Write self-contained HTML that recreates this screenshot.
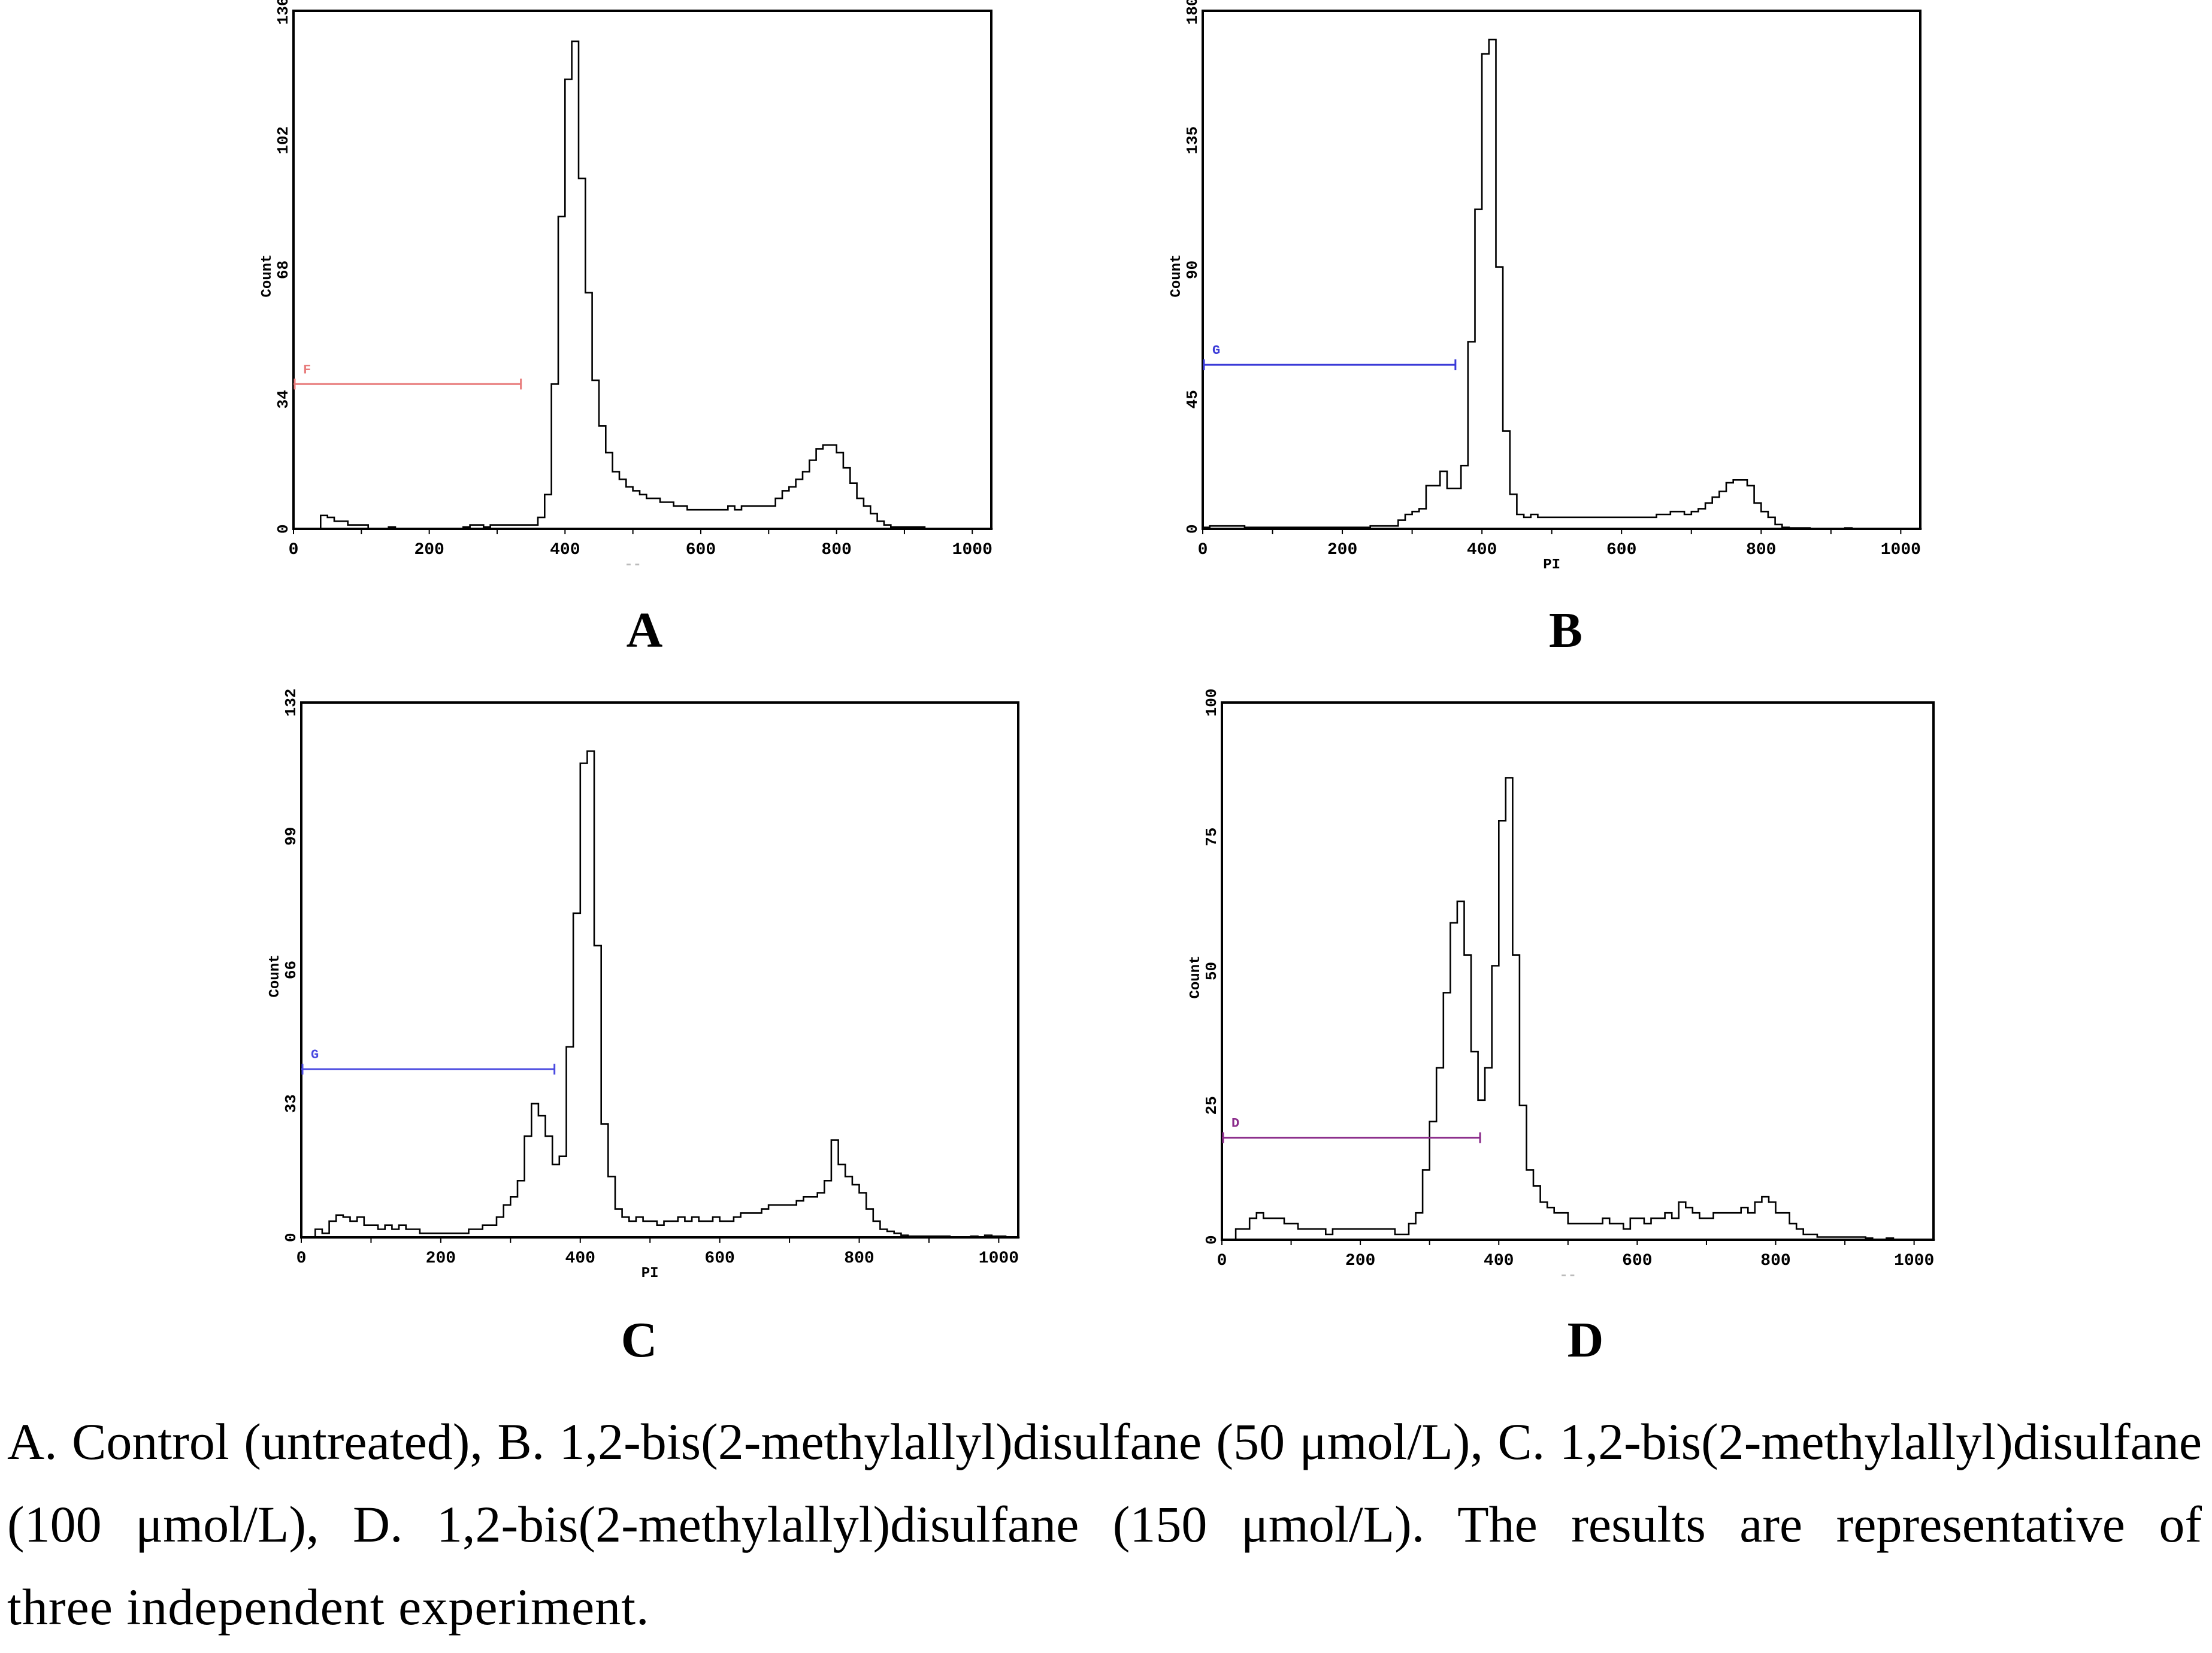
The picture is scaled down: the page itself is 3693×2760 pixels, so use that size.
<!DOCTYPE html>
<html><head><meta charset="utf-8">
<style>
html,body{margin:0;padding:0;background:#fff;}
body{width:3693px;height:2755px;position:relative;overflow:hidden;}
#cap{position:absolute;left:12px;top:2338px;width:3664px;font-family:"Liberation Serif",serif;font-size:86px;line-height:138px;color:#000;}
#cap .j{text-align:justify;text-align-last:justify;white-space:nowrap;}
#cap .l{text-align:left;white-space:nowrap;letter-spacing:1px;}
svg text{font-family:"Liberation Mono",monospace;font-weight:bold;}
</style></head>
<body>
<svg id="fig" width="3693" height="2755" viewBox="0 0 3693 2755" xmlns="http://www.w3.org/2000/svg"></svg>
<div id="cap">
<div class="j">A. Control (untreated), B. 1,2-bis(2-methylallyl)disulfane (50 μmol/L), C. 1,2-bis(2-methylallyl)disulfane</div>
<div class="j">(100 μmol/L), D. 1,2-bis(2-methylallyl)disulfane (150 μmol/L). The results are representative of</div>
<div class="l">three independent experiment.</div>
</div>
<script>
// Channel bins of width 10 (PI channel 0,10,20,...)
const binWidth = 10;
const xTicks = [0, 200, 400, 600, 800, 1000];
const countsA = [0,0,0,0,3.5,3,2,2,1,1, 1,0,0,0,0.5,0,0,0,0,0, 0,0,0,0,0,0.5,1,1,0.5,1,
 1,1,1,1,1,1,3,9,38,82, 118,128,92,62,39,27,20,15,13,11, 10,9,8,8,7,7,6,6,5,5,
 5,5,5,5,6,5,6,6,6,6, 6,8,10,11,13,15,18,21,22,22, 20,16,12,8,6,4,2,1,0.5,0.5,
 0.5,0.5,0.5,0,0,0,0,0,0,0,0,0,0];
const countsB = [0.5,1,1,1,1,1,0.5,0.5,0.5,0.5, 0.5,0.5,0.5,0.5,0.5,0.5,0.5,0.5,0.5,0.5, 0.5,0.5,0.5,0.5,1,1,1,1,3,5,
 6,7,15,15,20,14,14,22,65,111, 165,170,91,34,12,5,4,5,4,4, 4,4,4,4,4,4,4,4,4,4,
 4,4,4,4,4,5,5,6,6,5, 6,7,9,11,13,16,17,17,15,9, 6,4,1.5,0.5,0.3,0.3,0.3,0,0,0,
 0,0,0.3,0,0,0,0,0,0,0,0,0,0];
const countsC = [0,0,2,1,4,5.5,5,4,5,3, 3,2,3,2,3,2,2,1,1,1, 1,1,1,1,2,2,3,3,5,8,
 10,14,25,33,30,25,18,20,47,80, 117,120,72,28,15,7,5,4,5,4, 4,3,4,4,5,4,5,4,4,5,
 4,4,5,6,6,6,7,8,8,8, 8,9,10,10,11,14,24,18,15,13, 11,7,4,2,1.5,1,0.5,0.3,0.3,0.3,
 0.3,0.3,0.3,0,0,0,0.3,0,0.5,0.3,0.3,0,0];
const countsD = [0,0,2,2,4,5,4,4,4,3, 3,2,2,2,2,1,2,2,2,2, 2,2,2,2,2,1,1,3,5,13,
 22,32,46,59,63,53,35,26,32,51, 78,86,53,25,13,10,7,6,5,5, 3,3,3,3,3,4,3,3,2,4,
 4,3,4,4,5,4,7,6,5,4, 4,5,5,5,5,6,5,7,8,7, 5,5,3,2,1,1,0.5,0.5,0.5,0.5,
 0.5,0.5,0.5,0.3,0,0,0.3,0,0,0,0,0,0];
const yMaxes = [136, 180, 132, 100];
const yTicksA = [0, 34, 68, 102, 136];
const yTicksB = [0, 45, 90, 135, 180];
const yTicksC = [0, 33, 66, 99, 132];
const yTicksD = [0, 25, 50, 75, 100];
const gateLevels = [38, 57, 41.5, 19];
const gateEnds = [335, 362, 363, 373];
const gateNames = ["F", "G", "G", "D"];
const panelLetters = ["A", "B", "C", "D"];

const NS = "http://www.w3.org/2000/svg";
const svg = document.getElementById('fig');
function mk(tag, attrs, parent){
  const e = document.createElementNS(NS, tag);
  for (const k in attrs) e.setAttribute(k, attrs[k]);
  (parent || svg).appendChild(e);
  return e;
}
const layouts = [
  {l:490, r:1655, t:18, b:883, lx:1076, ly:1080, gc:"#e87c7c", pi:false},
  {l:2008, r:3206, t:18, b:883, lx:2614, ly:1080, gc:"#3a3ad8", pi:true},
  {l:503, r:1700, t:1173, b:2066, lx:1067, ly:2265, gc:"#4a4ae0", pi:true},
  {l:2040, r:3228, t:1173, b:2070, lx:2647, ly:2265, gc:"#8a2a8a", pi:false}
];
const allCounts = [countsA, countsB, countsC, countsD];
const allTicks = [yTicksA, yTicksB, yTicksC, yTicksD];
const XMAX = 1028;

layouts.forEach((L, i) => {
  const g = mk('g', {});
  
  
  const xs = ch => L.l + ch / XMAX * (L.r - L.l);
  const ys = v => L.b - v / yMaxes[i] * (L.b - L.t);
  const frame = mk('rect', {x:L.l, y:L.t, width:L.r-L.l, height:L.b-L.t, fill:'none', stroke:'#000', 'stroke-width':4}, g);
  
  
  for (let c = 0; c <= 1000; c += 100) {
    const tk = mk('line', {x1:xs(c), x2:xs(c), y1:L.b, y2:L.b+9, stroke:'#000', 'stroke-width':2}, g);
    
    
  }
  xTicks.forEach(c => {
    const t = mk('text', {x:xs(c), y:L.b+42, 'font-size':28, 'text-anchor':'middle', fill:'#000'}, g);
    t.textContent = String(c);
    
    
  });
  const pi = mk('text', {x:xs(500), y:L.b+66, 'font-size':24, 'text-anchor':'middle', fill: L.pi ? '#000' : '#bbb'}, g);
  pi.textContent = L.pi ? 'PI' : '--';
  
  
  allTicks[i].forEach(v => {
    const y = ys(v);
    const t = mk('text', {x:0, y:0, 'font-size':26, 'text-anchor': v===0 ? 'start' : 'middle', fill:'#000',
      transform:'translate(' + (L.l-10) + ',' + (v===0 ? y+8 : y) + ') rotate(-90)'}, g);
    t.textContent = String(v);
    
    
  });
  const ct = mk('text', {x:0, y:0, 'font-size':24, 'text-anchor':'middle', fill:'#000',
    transform:'translate(' + (L.l-38) + ',' + ((L.t+L.b)/2 + 10) + ') rotate(-90)'}, g);
  ct.textContent = 'Count';
  
  
  const arr = allCounts[i];
  let d = 'M' + xs(0) + ' ' + ys(0);
  arr.forEach((v, k) => {
    d += ' L' + xs(k*binWidth).toFixed(1) + ' ' + ys(v).toFixed(1) + ' L' + xs((k+1)*binWidth).toFixed(1) + ' ' + ys(v).toFixed(1);
  });
  const p = mk('path', {d:d, fill:'none', stroke:'#000', 'stroke-width':2.6, 'stroke-linejoin':'miter'}, g);
  
  
  const gy = ys(gateLevels[i]), gx2 = xs(gateEnds[i]);
  const gl = mk('line', {x1:L.l, x2:gx2, y1:gy, y2:gy, stroke:L.gc, 'stroke-width':3}, g);
  
  
  const ge1 = mk('line', {x1:L.l+2, x2:L.l+2, y1:gy-9, y2:gy+9, stroke:L.gc, 'stroke-width':3}, g);
  
  
  const ge2 = mk('line', {x1:gx2, x2:gx2, y1:gy-9, y2:gy+9, stroke:L.gc, 'stroke-width':3}, g);
  
  
  const gt = mk('text', {x:L.l+16, y:gy-18, 'font-size':22, fill:L.gc, 'font-family':'Liberation Serif, serif'}, g);
  gt.textContent = gateNames[i];
  
  
  const pl = mk('text', {x:L.lx, y:L.ly, 'font-size':84, 'text-anchor':'middle', fill:'#000', style:'font-family:"Liberation Serif",serif;font-weight:bold'});
  pl.textContent = panelLetters[i];
  
  
});
</script>
</body></html>
